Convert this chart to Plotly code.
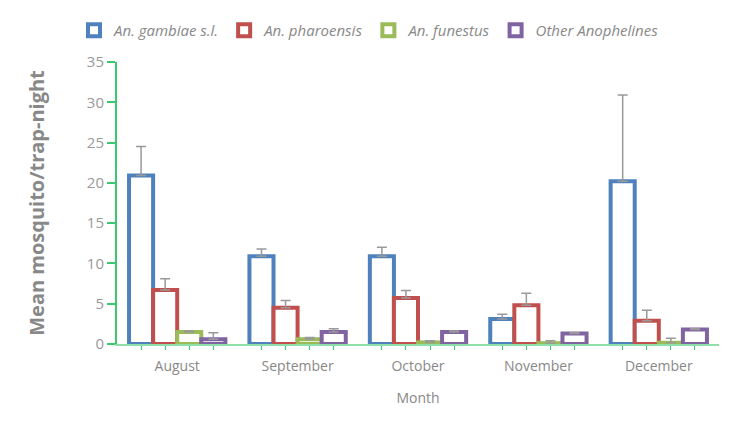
import plotly.graph_objects as go

months = ["August", "September", "October", "November", "December"]
series_names = ["An. gambiae s.l.", "An. pharoensis", "An. funestus", "Other Anophelines"]
gambiae = [20.9, 10.9, 10.9, 3.1, 20.2]
gambiae_err_top = [24.5, 11.8, 12.0, 3.7, 30.9]
pharoensis = [6.7, 4.5, 5.7, 4.8, 2.9]
pharoensis_err_top = [8.1, 5.4, 6.65, 6.3, 4.2]
funestus = [1.5, 0.6, 0.2, 0.1, 0.15]
funestus_err_top = [1.6, 0.8, 0.4, 0.4, 0.7]
other = [0.6, 1.5, 1.5, 1.3, 1.8]
other_err_top = [1.4, 1.9, 1.6, 1.4, 1.9]

values = [gambiae, pharoensis, funestus, other]
tops = [gambiae_err_top, pharoensis_err_top, funestus_err_top, other_err_top]
colors = ["#4f81bd", "#c0504d", "#9bbb59", "#8064a2"]

xpos = list(range(len(months)))
fig = go.Figure()
for name, v, t, c in zip(series_names, values, tops, colors):
    fig.add_trace(go.Bar(
        x=xpos, y=v, name=name,
        marker=dict(color="white", line=dict(color=c, width=4)),
        error_y=dict(type="data", symmetric=False,
                     array=[a - b for a, b in zip(t, v)],
                     arrayminus=[0] * len(v),
                     color="#999999", thickness=1.5, width=5),
    ))

offsets = [-0.3, -0.1, 0.1, 0.3]
bar_centers = [i + o for i in xpos for o in offsets]

W, H = 732, 420
fig.update_layout(
    width=W, height=H,
    paper_bgcolor="white", plot_bgcolor="white",
    margin=dict(l=109, r=21, t=54, b=84, autoexpand=False),
    barmode="group", bargap=0.2, bargroupgap=0,
    font=dict(family="Open Sans", color="#888888"),
    showlegend=True,
    legend=dict(orientation="h", xref="container", yref="container",
                x=66 / W, xanchor="left", y=1 - 6 / H, yanchor="top",
                bgcolor="rgba(0,0,0,0)",
                font=dict(size=15, color="#888888", style="italic"),
                itemwidth=30, tracegroupgap=0),
    xaxis=dict(range=[-0.5, 4.5], tickmode="array", tickvals=xpos, ticktext=months,
               ticks="", showline=True, linecolor="#8fe0a8", linewidth=2,
               ticklabelstandoff=8,
               showgrid=False, zeroline=False, tickfont=dict(size=14, color="#888888"),
               minor=dict(tickmode="array", tickvals=bar_centers, ticks="outside",
                          ticklen=4, tickcolor="#2ecc71", tickwidth=1, showgrid=False),
               title=dict(text="Month", font=dict(size=14, color="#888888"), standoff=19)),
    yaxis=dict(range=[0, 35], tickvals=[0, 5, 10, 15, 20, 25, 30, 35],
               showline=True, linecolor="#3cc870", linewidth=2,
               ticks="outside", ticklen=8, tickcolor="#3cc870", tickwidth=2,
               showgrid=False, zeroline=False, tickfont=dict(size=15, color="#999999"),
               title=dict(text="<b>Mean mosquito/trap-night</b>",
                          font=dict(size=20, color="#888888"), standoff=37)),
)
fig.write_html("out.html")
